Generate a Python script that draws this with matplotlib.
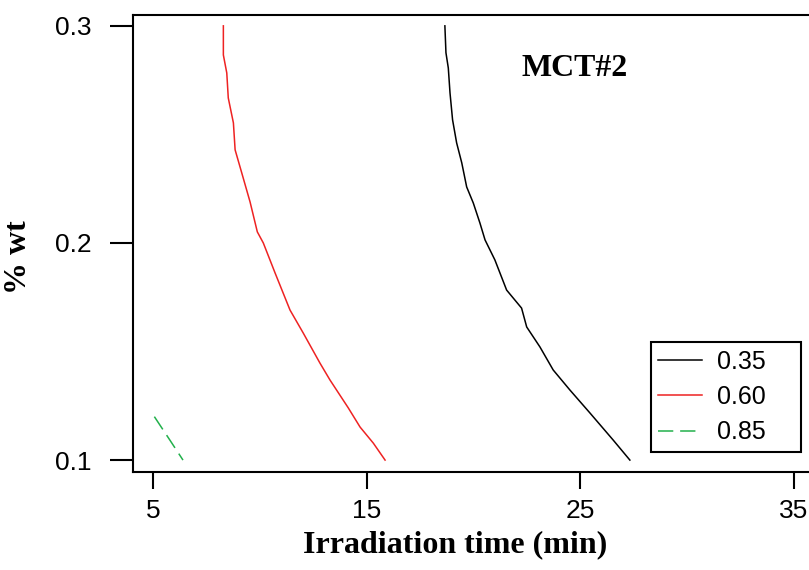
import matplotlib
matplotlib.use("Agg")
import matplotlib.pyplot as plt

# Contour level curves (x = irradiation time, y = % wt)
levels = ["0.35", "0.60", "0.85"]
x_035 = [18.66, 18.71, 18.82, 18.90, 19.02, 19.21, 19.45, 19.68, 19.99, 20.30,
         20.54, 21.00, 21.55, 22.25, 22.49, 23.11, 23.73, 24.51, 25.45, 26.54, 27.32]
y_035 = [0.300, 0.2876, 0.2806, 0.2691, 0.2567, 0.2461, 0.2369, 0.2258, 0.2184, 0.2092,
         0.2014, 0.1922, 0.1783, 0.1700, 0.1613, 0.1521, 0.1415, 0.1323, 0.1217, 0.1092, 0.100]
x_060 = [8.29, 8.29, 8.45, 8.52, 8.76, 8.84, 9.15, 9.54, 9.88, 10.16,
         10.71, 11.41, 12.03, 12.81, 13.28, 14.14, 14.69, 15.31, 15.86]
y_060 = [0.300, 0.2866, 0.2783, 0.2668, 0.2553, 0.2429, 0.2323, 0.2189, 0.2051, 0.200,
         0.1862, 0.1691, 0.1585, 0.1447, 0.1369, 0.1240, 0.1152, 0.1078, 0.100]
x_085 = [5.06, 5.8, 6.4]
y_085 = [0.120, 0.109, 0.100]

x_ticks = [5, 15, 25, 35]
y_ticks = [0.1, 0.2, 0.3]
y_tick_labels = ["0.1", "0.2", "0.3"]

fig = plt.figure(figsize=(8.09, 5.70), dpi=100)
ax = fig.add_axes([0.1644, 0.1719, 0.8418, 0.8018])

ax.plot(x_035, y_035, color="black", lw=1.1, label=levels[0] + "    ")
ax.plot(x_060, y_060, color="#ee2222", lw=1.1, label=levels[1] + "    ")
ax.plot(x_085, y_085, color="#22b04b", lw=1.1, linestyle=(0, (10, 4.5)),
        label=levels[2] + "    ")

ax.set_xlim(4.06, 35.94)
ax.set_ylim(0.0945, 0.305)
ax.set_xticks(x_ticks)
ax.set_xticklabels([str(v) for v in x_ticks])
ax.set_yticks(y_ticks)
ax.set_yticklabels(y_tick_labels)

for s in ax.spines.values():
    s.set_linewidth(1.5)

ax.tick_params(axis="x", length=12.2, width=1.5, pad=7, direction="out")
ax.tick_params(axis="y", length=16.6, width=1.5, pad=13, direction="out")
for lab in ax.get_xticklabels() + ax.get_yticklabels():
    lab.set_fontfamily("Liberation Sans")
    lab.set_fontsize(19)

ax.set_xlabel("Irradiation time (min)", fontfamily="Liberation Serif",
              fontweight="bold", fontsize=23)
ax.xaxis.set_label_coords(0.473, -0.128)
ax.set_ylabel("% wt", fontfamily="Liberation Serif",
              fontweight="bold", fontsize=23)
ax.yaxis.set_label_coords(-0.147, 0.47)

ax.text(0.649, 0.882, "MCT#2", transform=ax.transAxes,
        fontfamily="Liberation Serif", fontweight="bold", fontsize=23,
        ha="center", va="center")

leg = ax.legend(loc="lower right", bbox_to_anchor=(0.981, 0.0438),
                borderaxespad=0, fancybox=False, framealpha=1,
                edgecolor="black", prop=dict(family="Liberation Sans", size=18),
                handlelength=1.75, handletextpad=0.6, labelspacing=0.45,
                borderpad=0.3)
leg.get_frame().set_linewidth(1.5)

fig.savefig("out.png", dpi=100)
